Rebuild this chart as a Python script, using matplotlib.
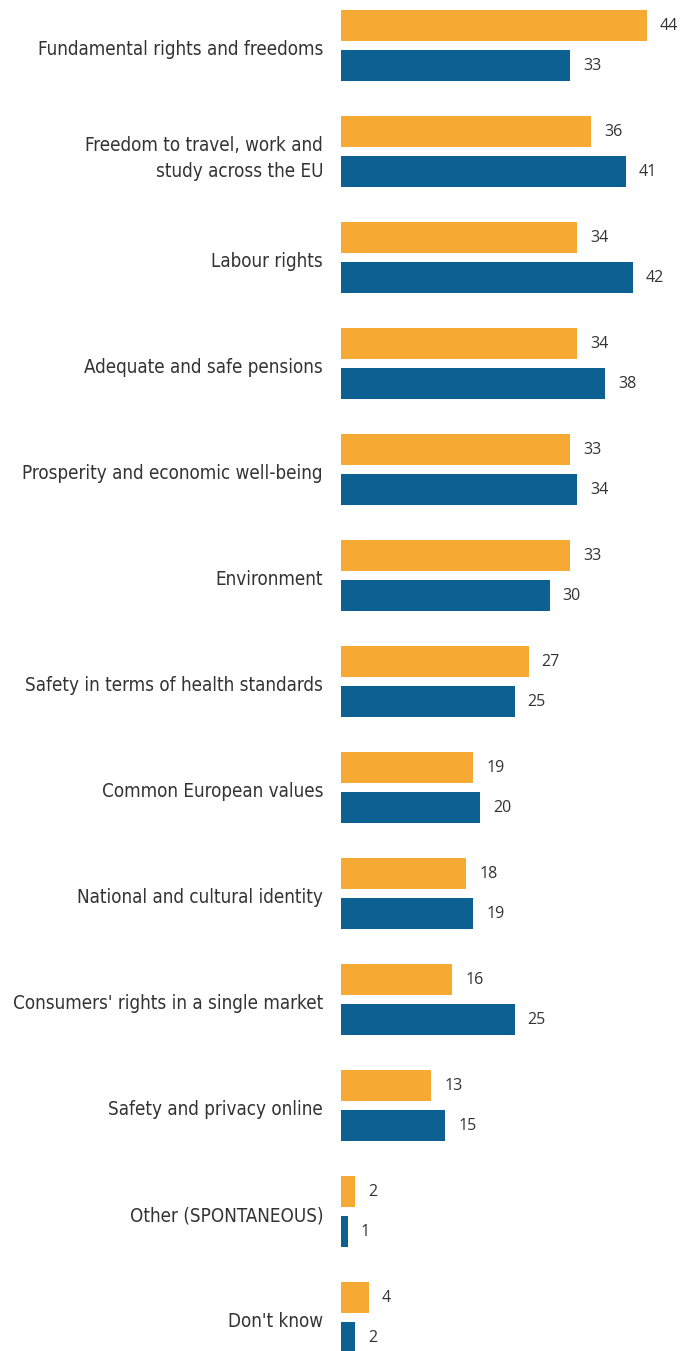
import matplotlib.pyplot as plt
import numpy as np

categories = [
    "Fundamental rights and freedoms",
    "Freedom to travel, work and\nstudy across the EU",
    "Labour rights",
    "Adequate and safe pensions",
    "Prosperity and economic well-being",
    "Environment",
    "Safety in terms of health standards",
    "Common European values",
    "National and cultural identity",
    "Consumers' rights in a single market",
    "Safety and privacy online",
    "Other (SPONTANEOUS)",
    "Don't know",
]
orange_vals = [44, 36, 34, 34, 33, 33, 27, 19, 18, 16, 13, 2, 4]
blue_vals = [33, 41, 42, 38, 34, 30, 25, 20, 19, 25, 15, 1, 2]

orange = "#F6A933"
blue = "#0D6092"

W, H = 694, 1351
fig = plt.figure(figsize=(W / 100, H / 100), dpi=100)
x0 = 341
ax = fig.add_axes([x0 / W, 0, 1 - x0 / W, 1])

pxu = 6.95  # pixels per percentage point
ax.set_xlim(0, (W - x0) / pxu)
period = 106.0
ax.set_ylim((H - 45.25) / period, -45.25 / period)

y = np.arange(len(categories))
off = 19.75 / period
h = 31 / period
ax.barh(y - off, orange_vals, height=h, color=orange)
ax.barh(y + off, blue_vals, height=h, color=blue)

for i in range(len(categories)):
    ax.text(orange_vals[i] + 13 / pxu, y[i] - off + 1 / period, str(orange_vals[i]),
            va="center", ha="left", fontsize=11.5, color="#333333", family="Open Sans")
    ax.text(blue_vals[i] + 13 / pxu, y[i] + off + 1 / period, str(blue_vals[i]),
            va="center", ha="left", fontsize=11.5, color="#333333", family="Open Sans")
    dy = 7 if "\n" in categories[i] else 4.5
    ax.text(-18 / pxu, y[i] + dy / period, categories[i], ha="right", va="center",
            fontsize=13.5, color="#333333", family="DejaVu Sans", fontstretch="condensed",
            linespacing=1.45, clip_on=False)

ax.axis("off")
fig.savefig("out.png", dpi=100)
